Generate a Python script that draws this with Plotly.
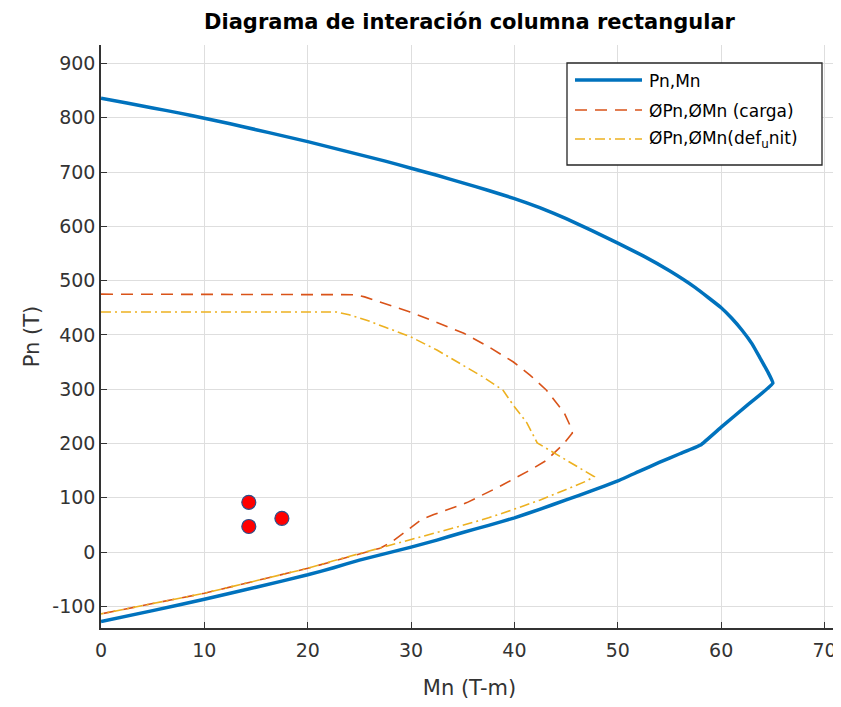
import plotly.graph_objects as go

# Pn,Mn nominal interaction curve
mn_nom = [0, 2.5, 5, 7.5, 10, 12.5, 15, 17.5, 20, 22.5, 25, 27.5, 30, 32.5, 35, 37.5, 40, 42.5,
          45, 47.5, 50, 52.5, 55, 57.5, 60, 61, 62, 63, 63.8, 64.5, 65.0,
          62.5, 60, 58, 56, 54, 52, 50, 47.5, 45, 42.5, 40, 37.5, 35, 32.5, 30,
          27.5, 25, 22.5, 20, 15, 10, 5, 0]
pn_nom = [836, 827, 818, 809, 799, 789, 778, 767, 756, 744, 732, 720, 707, 694, 680, 666, 651, 634,
          614, 592, 569, 545, 518, 487, 450, 431, 409, 383, 356, 332, 311,
          270, 230, 197, 181, 165, 148, 131, 113, 96, 79, 63, 49, 36, 22, 9,
          -3, -15, -29, -42, -65, -87, -108, -128]

# phi Pn, phi Mn (carga)
mn_carga = [0, 24.0, 24.6, 25.5, 27.3, 29.9, 32.5, 35.1, 37.5, 39.9, 41.5, 43.1, 44.8, 45.5, 45.6,
            44.8, 43.1, 41.8, 38.6, 35.4, 32.2, 31.0, 29.5, 28.0, 27.0, 25.7,
            22.5, 20, 15, 10, 5, 0]
pn_carga = [475, 475, 474, 470, 459, 442, 423, 403, 378, 350, 326, 298, 257, 228, 219,
            200, 169, 154, 121, 91, 69, 60, 38, 17, 7, 0,
            -16, -30, -53, -76, -95, -114]

# phi Pn, phi Mn (def_unit)
mn_def = [0, 22.8, 24.0, 25.7, 27.5, 29.9, 32.5, 35.1, 37.0, 38.9, 39.9, 41.2, 41.8, 42.2, 47.7,
          47.0, 45.0, 42.5, 40.0, 37.5, 34.8, 32.5, 30.0, 27.5, 25.7, 22.5, 20, 15, 10, 5, 0]
pn_def = [442, 442, 437, 427, 414, 397, 372, 344, 322, 298, 270, 238, 214, 201, 139,
          131, 115, 96, 79, 63, 48, 36, 24, 11, 1, -16, -30, -53, -76, -95, -114]

# Load points
mu_pts = [14.3, 14.3, 17.5]
pu_pts = [91.5, 47, 62]

x_ticks = [0, 10, 20, 30, 40, 50, 60, 70]
y_ticks = [-100, 0, 100, 200, 300, 400, 500, 600, 700, 800, 900]
y_tick_labels = ["-100", "0", "100", "200", "300", "400", "500", "600", "700", "800", "900"]

names = ["Pn,Mn", "ØPn,ØMn (carga)", "ØPn,ØMn(def<sub>u</sub>nit)"]
colors = ["#0072BD", "#D95319", "#EDB120"]
widths = [3.5, 1.6, 1.6]
dashes = ["solid", "12px,8px", "10px,4px,2px,4px"]

FONT = "DejaVu Sans"
AX = "#333333"
OFF = 8  # page body margin
W, H = 841 - OFF, 707 - OFF
L, R, T, B = 101 - OFF, 838 - OFF, 45 - OFF, 628 - OFF


def px(x):
    return (x - OFF - L) / (R - L)


def py(y):
    return (B - (y - OFF)) / (B - T)


fig = go.Figure()
fig.add_trace(go.Scatter(x=mn_nom, y=pn_nom, mode="lines", name=names[0], showlegend=False,
                         line=dict(color=colors[0], width=widths[0], shape="spline", smoothing=0.3)))
fig.add_trace(go.Scatter(x=mn_carga, y=pn_carga, mode="lines", name=names[1], showlegend=False,
                         line=dict(color=colors[1], width=widths[1], dash=dashes[1])))
fig.add_trace(go.Scatter(x=mn_def, y=pn_def, mode="lines", name=names[2], showlegend=False,
                         line=dict(color=colors[2], width=widths[2], dash=dashes[2])))
fig.add_trace(go.Scatter(x=mu_pts, y=pu_pts, mode="markers", showlegend=False,
                         marker=dict(color="red", size=14, line=dict(color="#2c4f8a", width=1.2))))

# custom legend (box, line samples, labels) -- positions in reference screen pixels
shapes = [dict(type="rect", xref="paper", yref="paper", x0=px(567), x1=px(822), y0=py(165), y1=py(63),
               line=dict(color="#262626", width=1.3), fillcolor="white", layer="above")]
annotations = []
rows = [80, 110, 139]
for i, yy in enumerate(rows):
    shapes.append(dict(type="line", xref="paper", yref="paper", x0=px(575), x1=px(642), y0=py(yy), y1=py(yy),
                       line=dict(color=colors[i], width=widths[i], dash=dashes[i]), layer="above"))
    annotations.append(dict(text=names[i], xref="paper", yref="paper", x=px(647), y=py(yy + 1),
                            xanchor="left", yanchor="middle", showarrow=False,
                            font=dict(family=FONT, size=17, color="black")))

fig.update_layout(
    width=W, height=H,
    margin=dict(l=L, r=W - R, t=T, b=H - B, autoexpand=False),
    paper_bgcolor="white", plot_bgcolor="white",
    font=dict(family=FONT, size=19, color=AX),
    title=dict(text="Diagrama de interación columna rectangular", x=0.5, xref="paper",
               xanchor="center", y=1 - 14 / H, yanchor="middle",
               font=dict(family=FONT, size=21, color="black", weight="bold")),
    showlegend=False,
    shapes=shapes, annotations=annotations,
    xaxis=dict(range=[0, 71.3], tickvals=x_ticks, ticks="inside", ticklen=6, tickcolor=AX,
               ticklabelstandoff=4,
               showline=True, linecolor=AX, linewidth=1.5, showgrid=True, gridcolor="#dedede",
               gridwidth=1, zeroline=False, automargin=False,
               title=dict(text="Mn (T-m)", standoff=21, font=dict(size=21))),
    yaxis=dict(range=[-140, 934], tickvals=y_ticks, ticktext=y_tick_labels, ticks="inside",
               ticklen=6, tickcolor=AX,
               showline=True, linecolor=AX, linewidth=1.5, showgrid=True, gridcolor="#dedede",
               gridwidth=1, zeroline=False, automargin=False,
               title=dict(text="Pn (T)", standoff=7, font=dict(size=21))),
)

fig.write_html("out.html")
